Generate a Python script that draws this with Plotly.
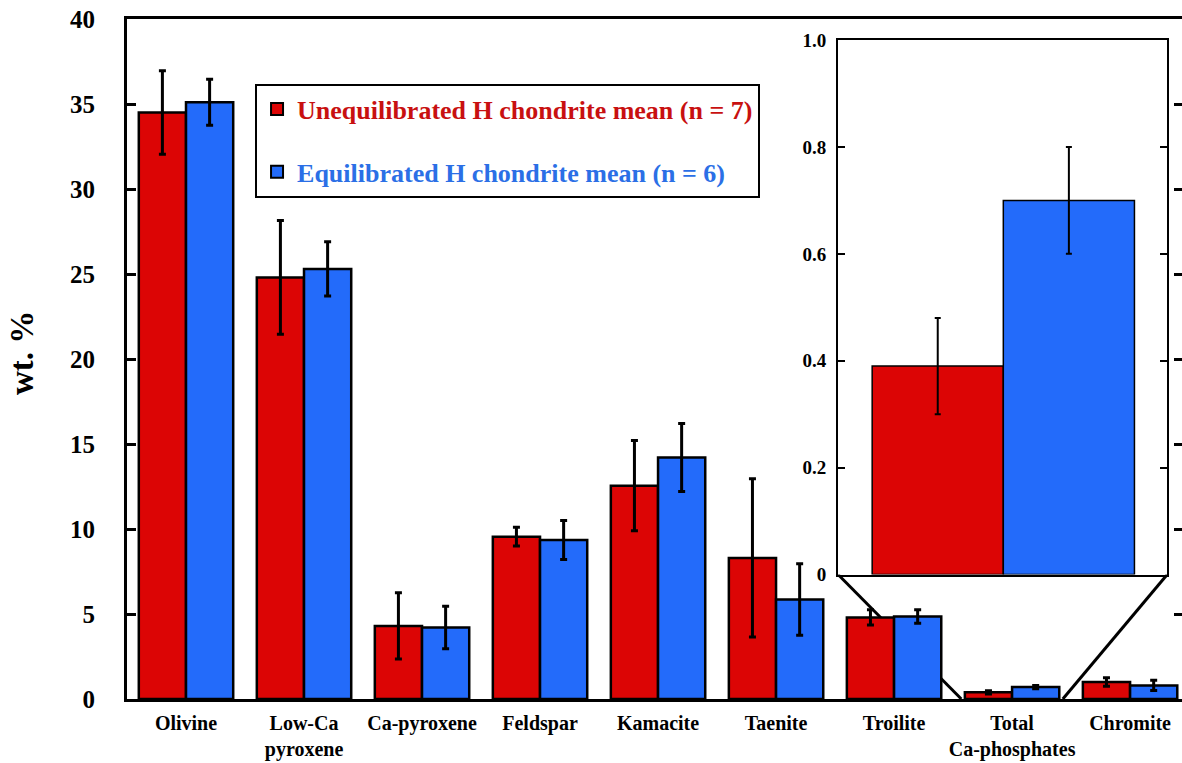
import plotly.graph_objects as go

# ---------------- data ----------------
categories = ["Olivine", "Low-Ca<br>pyroxene", "Ca-pyroxene", "Feldspar", "Kamacite",
              "Taenite", "Troilite", "Total<br>Ca-phosphates", "Chromite"]
unequil_mean = [34.5, 24.8, 4.3, 9.55, 12.55, 8.3, 4.8, 0.39, 1.0]
unequil_err = [2.45, 3.35, 1.95, 0.55, 2.65, 4.65, 0.45, 0.09, 0.25]
equil_mean = [35.1, 25.3, 4.2, 9.35, 14.2, 5.85, 4.85, 0.70, 0.8]
equil_err = [1.35, 1.6, 1.25, 1.15, 2.0, 2.1, 0.4, 0.10, 0.3]

inset_index = 7  # Total Ca-phosphates
inset_labels = ["Unequilibrated", "Equilibrated"]

main_yticks = [0, 5, 10, 15, 20, 25, 30, 35, 40]
inset_yticks = [0, 0.2, 0.4, 0.6, 0.8, 1.0]
inset_yticktext = ["0", "0.2", "0.4", "0.6", "0.8", "1.0"]

RED = "#DC0505"
BLUE = "#236BFA"
FONT = "Liberation Serif, Times New Roman, serif"

X_RANGE = [-0.5, 8.44]
INSET_XDOM = [0.674, 0.986]
INSET_YDOM = [0.183, 0.969]

fig = go.Figure()

fig.add_trace(go.Bar(
    x=categories, y=unequil_mean,
    name='<span style="color:#C81010">Unequilibrated H chondrite mean (n = 7)</span>',
    marker=dict(color=RED, line=dict(color="black", width=2.5)),
    error_y=dict(type="data", array=unequil_err, color="black", thickness=3, width=3.5),
    legendgroup="a",
))
fig.add_trace(go.Bar(
    x=categories, y=equil_mean,
    name='<span style="color:#2B6FE6">Equilibrated H chondrite mean (n = 6)</span>',
    marker=dict(color=BLUE, line=dict(color="black", width=2.5)),
    error_y=dict(type="data", array=equil_err, color="black", thickness=3, width=3.5),
    legendgroup="b",
))

# inset bars
fig.add_trace(go.Bar(
    x=[0], y=[unequil_mean[inset_index]], width=1, xaxis="x2", yaxis="y2",
    marker=dict(color=RED, line=dict(color="black", width=1.5)),
    error_y=dict(type="data", array=[unequil_err[inset_index]], color="black", thickness=2, width=3),
    showlegend=False, name=inset_labels[0],
))
fig.add_trace(go.Bar(
    x=[1], y=[equil_mean[inset_index]], width=1, xaxis="x2", yaxis="y2",
    marker=dict(color=BLUE, line=dict(color="black", width=1.5)),
    error_y=dict(type="data", array=[equil_err[inset_index]], color="black", thickness=2, width=3),
    showlegend=False, name=inset_labels[1],
))

def xpaper(v):
    return (v - X_RANGE[0]) / (X_RANGE[1] - X_RANGE[0])

half_group = 0.4
shapes = [
    dict(type="line", xref="paper", yref="paper",
         x0=INSET_XDOM[0], y0=INSET_YDOM[0], x1=xpaper(inset_index - half_group - 0.03), y1=0,
         line=dict(color="black", width=3), layer="below"),
    dict(type="line", xref="paper", yref="paper",
         x0=INSET_XDOM[1], y0=INSET_YDOM[0], x1=xpaper(inset_index + half_group + 0.03), y1=0,
         line=dict(color="black", width=3), layer="below"),
]

fig.update_layout(
    width=1182, height=763,
    margin=dict(l=127, r=0, t=19, b=64),
    paper_bgcolor="white", plot_bgcolor="white",
    barmode="group", bargap=0.2, bargroupgap=0,
    font=dict(family=FONT, color="black"),
    showlegend=True,
    legend=dict(
        x=xpaper(0.585), y=0.905, xanchor="left", yanchor="top",
        bgcolor="white", bordercolor="black", borderwidth=2,
        font=dict(family=FONT, size=26, weight="bold"),
        tracegroupgap=26, itemsizing="constant",
    ),
    xaxis=dict(
        range=X_RANGE, showline=True, linecolor="black", linewidth=3, mirror=True,
        ticks="", showgrid=False, zeroline=False,
        tickfont=dict(family=FONT, size=20, weight="bold"),
        ticklabelstandoff=4,
    ),
    yaxis=dict(
        range=[0, 40], tickvals=main_yticks, showline=True, linecolor="black", linewidth=3,
        mirror=False, ticks="inside", ticklen=9, tickwidth=2.5, tickcolor="black",
        showgrid=False, zeroline=False,
        tickfont=dict(family=FONT, size=25, weight="bold"),
        ticklabelstandoff=24,
    ),
    yaxis3=dict(
        overlaying="y", side="right", anchor="x", range=[0, 40], tickvals=main_yticks,
        showline=False, ticks="inside", ticklen=8, tickwidth=2.5, tickcolor="black",
        showticklabels=False, showgrid=False, zeroline=False,
    ),
    xaxis2=dict(
        domain=INSET_XDOM, anchor="y2", range=[-0.76, 1.75],
        showline=True, linecolor="black", linewidth=2, mirror=True,
        showticklabels=False, ticks="", showgrid=False, zeroline=False,
    ),
    yaxis2=dict(
        domain=INSET_YDOM, anchor="x2", range=[0, 1], tickvals=inset_yticks,
        ticktext=inset_yticktext, showline=True, linecolor="black", linewidth=2,
        mirror="ticks", ticks="inside", ticklen=7, tickwidth=2, tickcolor="black",
        showgrid=False, zeroline=False,
        tickfont=dict(family=FONT, size=19, weight="bold"),
        ticklabelstandoff=6,
    ),
    shapes=shapes,
    annotations=[dict(
        text="wt. %", xref="paper", yref="paper", x=-0.1, y=0.508,
        xanchor="center", yanchor="middle", textangle=-90, showarrow=False,
        font=dict(family=FONT, size=33, weight="bold"),
    )],
)

# invisible trace so the right-hand mirror tick axis is drawn
fig.add_trace(go.Scatter(x=[categories[0]], y=[0], yaxis="y3", mode="markers",
                         marker=dict(opacity=0), showlegend=False, hoverinfo="skip"))

fig.write_html("out.html")
